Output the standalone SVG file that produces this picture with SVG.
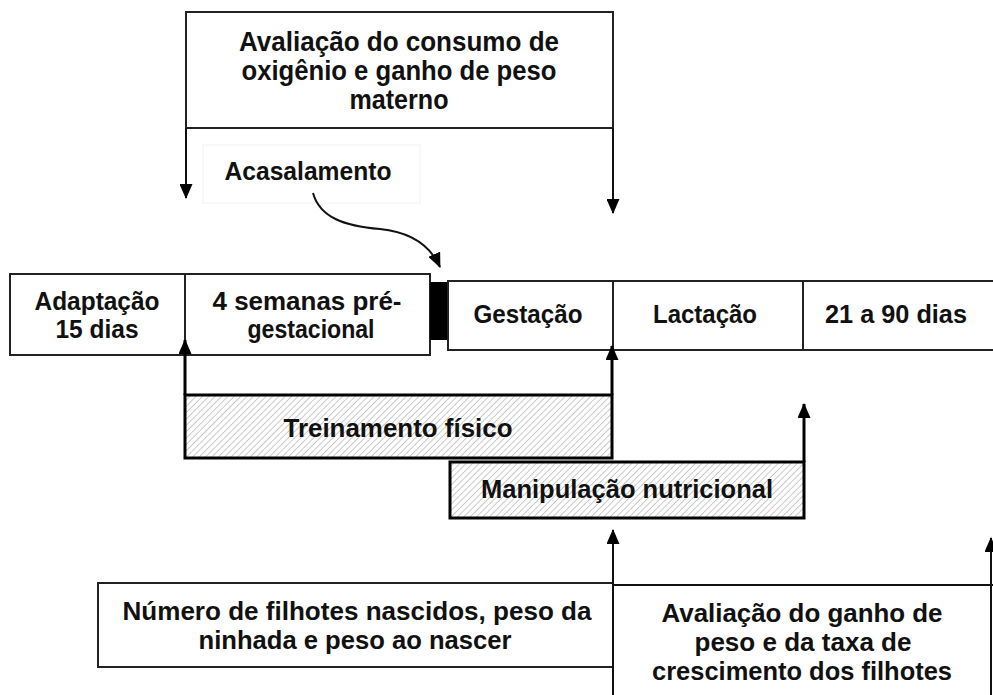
<svg xmlns="http://www.w3.org/2000/svg" width="993" height="695" viewBox="0 0 993 695">
<style>
text{font-family:"Liberation Sans",Arial,sans-serif;font-weight:bold;font-size:26px;fill:#111;text-anchor:middle}
text.big{font-size:27px}
.box{fill:#fff;stroke:#222;stroke-width:2}
.hbox{fill:url(#hatch);stroke:#000;stroke-width:3}
.ln{fill:none;stroke:#111;stroke-width:2}
.lnk{fill:none;stroke:#000;stroke-width:3}
</style>
<defs>
<pattern id="hatch" patternUnits="userSpaceOnUse" width="4.5" height="4.5" patternTransform="rotate(45)">
<rect width="4.5" height="4.5" fill="#fff"/>
<line x1="0" y1="0" x2="0" y2="4.5" stroke="#a8a8a8" stroke-width="1.2"/>
</pattern>
<marker id="arr" markerUnits="userSpaceOnUse" markerWidth="15" markerHeight="13" refX="14" refY="6.5" orient="auto">
<path d="M0,0 L15,6.5 L0,13 z" fill="#000"/>
</marker>
</defs>
<rect width="993" height="695" fill="#fff"/>

<g id="avaliacao-materna">
<rect class="box" x="186" y="12" width="427" height="116"/>
<text class="big" x="399" y="51" textLength="320" lengthAdjust="spacingAndGlyphs">Avaliação do consumo de</text>
<text class="big" x="399" y="80" textLength="315" lengthAdjust="spacingAndGlyphs">oxigênio e ganho de peso</text>
<text class="big" x="399" y="109" textLength="99" lengthAdjust="spacingAndGlyphs">materno</text>
</g>

<g id="acasalamento">
<rect x="203" y="145" width="217" height="58" fill="#fff" stroke="#f2f2f2" stroke-width="1"/>
<text x="308" y="180" textLength="167" lengthAdjust="spacingAndGlyphs">Acasalamento</text>
</g>

<g id="adaptacao">
<rect class="box" x="10" y="274" width="175" height="81"/>
<text x="97" y="310" textLength="125" lengthAdjust="spacingAndGlyphs">Adaptação</text>
<text x="97" y="338" textLength="83" lengthAdjust="spacingAndGlyphs">15 dias</text>
</g>
<g id="pre-gestacional">
<rect class="box" x="185" y="274" width="245" height="81"/>
<text x="307" y="310" textLength="189" lengthAdjust="spacingAndGlyphs">4 semanas pré-</text>
<text x="311" y="338" textLength="127" lengthAdjust="spacingAndGlyphs">gestacional</text>
</g>
<g id="bloco">
<rect x="430" y="282" width="18" height="58" fill="#000"/>
</g>
<g id="gestacao">
<rect class="box" x="448" y="281" width="165" height="69"/>
<text x="528" y="323" textLength="109" lengthAdjust="spacingAndGlyphs">Gestação</text>
</g>
<g id="lactacao">
<rect class="box" x="613" y="281" width="190" height="69"/>
<text x="705" y="323" textLength="104" lengthAdjust="spacingAndGlyphs">Lactação</text>
</g>
<g id="dias-21-90">
<rect class="box" x="803" y="281" width="200" height="69"/>
<text x="896" y="323" textLength="142" lengthAdjust="spacingAndGlyphs">21 a 90 dias</text>
</g>

<g id="treinamento">
<rect class="hbox" x="185" y="395" width="427" height="63"/>
<text x="398" y="437" textLength="229" lengthAdjust="spacingAndGlyphs">Treinamento físico</text>
</g>
<g id="manipulacao">
<rect class="hbox" x="450" y="462" width="354" height="56"/>
<text x="627" y="498" textLength="292" lengthAdjust="spacingAndGlyphs">Manipulação nutricional</text>
</g>

<g id="filhotes-nascimento">
<rect class="box" x="98" y="583" width="515" height="84"/>
<text x="357" y="620" textLength="469" lengthAdjust="spacingAndGlyphs">Número de filhotes nascidos, peso da</text>
<text x="355" y="649" textLength="313" lengthAdjust="spacingAndGlyphs">ninhada e peso ao nascer</text>
</g>
<g id="avaliacao-filhotes">
<line class="ln" x1="613" y1="585" x2="993" y2="585"/>
<text x="802" y="622" textLength="281" lengthAdjust="spacingAndGlyphs">Avaliação do ganho de</text>
<text x="803" y="651" textLength="217" lengthAdjust="spacingAndGlyphs">peso e da taxa de</text>
<text x="802" y="680" textLength="300" lengthAdjust="spacingAndGlyphs">crescimento dos filhotes</text>
</g>

<g id="connectors">
<line class="ln" x1="186" y1="128" x2="186" y2="198" marker-end="url(#arr)"/>
<line class="ln" x1="613" y1="128" x2="613" y2="213" marker-end="url(#arr)"/>
<path class="ln" d="M313,193 C320,218 345,226 380,229 C410,232 430,245 440,267" marker-end="url(#arr)"/>
<line class="lnk" x1="185" y1="395" x2="185" y2="340" marker-end="url(#arr)"/>
<line class="lnk" x1="612" y1="395" x2="612" y2="346" marker-end="url(#arr)"/>
<line class="lnk" x1="804" y1="462" x2="804" y2="404" marker-end="url(#arr)"/>
<line class="ln" x1="613" y1="695" x2="613" y2="530" marker-end="url(#arr)"/>
<line class="ln" x1="991" y1="695" x2="991" y2="538" marker-end="url(#arr)"/>
</g>
</svg>
